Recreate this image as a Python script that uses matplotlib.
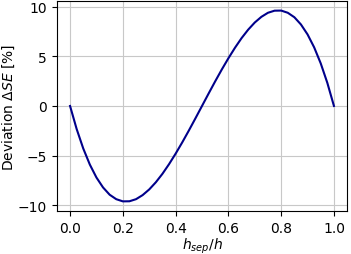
import matplotlib
matplotlib.use("Agg")
import matplotlib.pyplot as plt

# values
h_ratio = [0.0, 0.025, 0.05, 0.075, 0.1, 0.125, 0.15, 0.175, 0.2, 0.225,
           0.25, 0.275, 0.3, 0.325, 0.35, 0.375, 0.4, 0.425, 0.45, 0.475,
           0.5, 0.525, 0.55, 0.575, 0.6, 0.625, 0.65, 0.675, 0.7, 0.725,
           0.75, 0.775, 0.8, 0.825, 0.85, 0.875, 0.9, 0.925, 0.95, 0.975, 1.0]
deviation = [0.0, -2.32, -4.28, -5.90, -7.20, -8.20, -8.93, -9.38, -9.60, -9.59,
             -9.38, -8.97, -8.40, -7.68, -6.83, -5.86, -4.80, -3.67, -2.48, -1.25,
             0.0, 1.25, 2.48, 3.67, 4.80, 5.86, 6.83, 7.68, 8.40, 8.97,
             9.38, 9.59, 9.60, 9.38, 8.93, 8.20, 7.20, 5.90, 4.28, 2.32, 0.0]

fig, ax = plt.subplots(figsize=(3.51, 2.55), dpi=100)
ax.plot(h_ratio, deviation, color="darkblue", linewidth=1.5)
ax.set_xlabel(r"$h_{sep}/h$", labelpad=1)
ax.set_ylabel(r"Deviation $\Delta SE$ [%]", labelpad=1)
ax.set_xticks([0.0, 0.2, 0.4, 0.6, 0.8, 1.0])
ax.set_yticks([-10, -5, 0, 5, 10])
ax.grid(True, color="#c8c8c8")
fig.subplots_adjust(left=0.162, right=0.989, top=0.992, bottom=0.169)
fig.savefig("out.png", dpi=100)
